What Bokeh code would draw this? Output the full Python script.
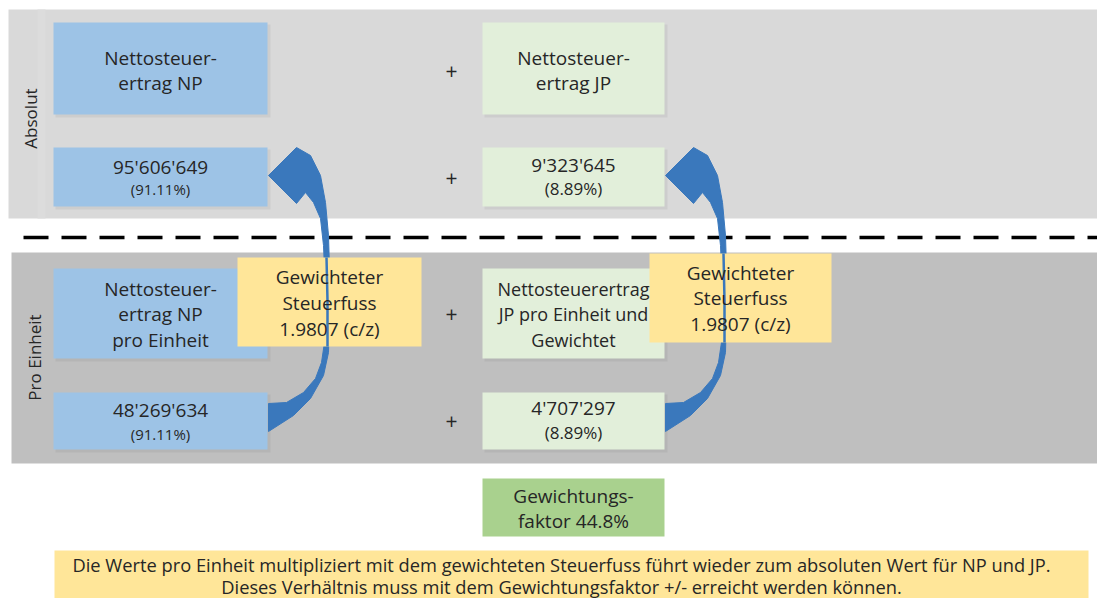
from bokeh.plotting import figure
from bokeh.models import Range1d
from bokeh.core.properties import value
from bokeh.embed import file_html
from bokeh.resources import INLINE
import math

# ---------------- content ----------------
band_labels = ["Absolut", "Pro Einheit"]
np_header = ["Nettosteuer-", "ertrag NP"]
jp_header = ["Nettosteuer-", "ertrag JP"]
np_abs_value = "95'606'649"
np_abs_share = "(91.11%)"
jp_abs_value = "9'323'645"
jp_abs_share = "(8.89%)"
np_unit_header = ["Nettosteuer-", "ertrag NP", "pro Einheit"]
jp_unit_header = ["Nettosteuerertrag", "JP pro Einheit und", "Gewichtet"]
np_unit_value = "48'269'634"
np_unit_share = "(91.11%)"
jp_unit_value = "4'707'297"
jp_unit_share = "(8.89%)"
weight_box = ["Gewichteter", "Steuerfuss", "1.9807 (c/z)"]
factor_box = ["Gewichtungs-", "faktor 44.8%"]
note_lines = [
    "Die Werte pro Einheit multipliziert mit dem gewichteten Steuerfuss führt wieder zum absoluten Wert für NP und JP.",
    "Dieses Verhältnis muss mit dem Gewichtungsfaktor +/- erreicht werden können.",
]

# ---------------- layout (pixel frame, y downwards) ----------------
W, H = 1097, 598
np_x = (53, 267)
jp_x = (482, 664)
plus_x = 451
rows_y = [(22, 114), (147, 206), (268, 358), (392, 449)]
yellow_l = (237, 421, 257, 346)
yellow_r = (649, 831, 253, 342)
factor_xy = (482, 664, 478, 536)
note_xy = (54, 1088, 550, 598)
arrow_shift = 397

C_TOP = "#d9d9d9"
C_BOT = "#bfbfbf"
C_NP = "#9dc3e6"
C_JP = "#e2efda"
C_Y = "#ffe699"
C_G = "#a9d18e"
C_ARROW = "#3a78bc"
C_TXT = "#262626"
FONT = value("Open Sans")

p = figure(width=W, height=H, output_backend="svg", toolbar_location=None,
           x_range=Range1d(0, W), y_range=Range1d(H, 0),
           min_border=0, outline_line_color=None)
p.axis.visible = False
p.grid.visible = False
p.background_fill_color = "white"
p.border_fill_color = "white"

def box(x0, x1, y0, y1, color, **kw):
    p.quad(left=x0, right=x1, top=y0, bottom=y1, fill_color=color, line_color=None, **kw)

def lines(xc, ys, texts, size="19px", color=C_TXT):
    p.text(x=[xc] * len(texts), y=ys, text=texts, text_align="center",
           text_baseline="middle", text_font=FONT, text_font_size=size,
           text_color=color)

# bands
box(8, 1120, 9, 218, C_TOP)
box(37, 45, 9, 218, "#dcdcdc")
box(11, 1120, 252, 463, C_BOT)

# dashed separator
p.line(x=[23, 1110], y=[237, 237], line_color="black", line_width=3.5, line_dash="25 13")

# boxes with subtle shadow
for (x0, x1), col in [(np_x, C_NP), (jp_x, C_JP)]:
    for (y0, y1) in rows_y:
        box(x0 + 2, x1 + 3, y0 + 2, y1 + 3, "#000000", fill_alpha=0.05)
        box(x0, x1, y0, y1, col)

# arrows (curved, pointing up-left)
arrow_x = [268, 296, 310, 320, 325, 328, 329, 329, 328, 323, 310, 293, 268,
           268, 286, 303, 315, 321, 325, 325, 324, 323, 320, 313, 305, 296]
arrow_y = [175, 147, 155, 175, 202, 235, 268, 308, 352, 375, 398, 415, 431,
           403, 402, 392, 378, 362, 335, 300, 268, 245, 218, 202, 192, 203]
for dx in (0, arrow_shift):
    p.patch(x=[v + dx for v in arrow_x], y=arrow_y, fill_color=C_ARROW,
            line_color=C_ARROW, line_width=1)

# weighted tax rate boxes
for (x0, x1, y0, y1) in (yellow_l, yellow_r):
    box(x0, x1, y0, y1, C_Y)
# thin arrow line visible through yellow boxes
for dx, (x0, x1, y0, y1) in ((0, yellow_l), (arrow_shift, yellow_r)):
    p.line(x=[326 + dx, 327 + dx, 327 + dx], y=[y0, 300, y1], line_color=C_ARROW, line_width=2.5)

# factor and note boxes
box(*factor_xy, C_G)
box(*note_xy, C_Y)

# ---------------- texts ----------------
np_c = sum(np_x) / 2
jp_c = sum(jp_x) / 2
lines(np_c, [57, 82], np_header)
lines(jp_c, [57, 82], jp_header)
lines(np_c, [166], [np_abs_value])
lines(np_c, [188], [np_abs_share], size="15px")
lines(jp_c, [164], [jp_abs_value])
lines(jp_c, [188], [jp_abs_share], size="17px")
lines(np_c, [288, 313, 339], np_unit_header)
lines(jp_c, [288, 313, 339], jp_unit_header, size="18px")
lines(np_c, [409], [np_unit_value])
lines(np_c, [433], [np_unit_share], size="15px")
lines(jp_c, [407], [jp_unit_value])
lines(jp_c, [432], [jp_unit_share], size="17px")
lines((yellow_l[0] + yellow_l[1]) / 2, [276, 302, 328], weight_box)
lines((yellow_r[0] + yellow_r[1]) / 2, [272, 297, 323], weight_box)
lines((factor_xy[0] + factor_xy[1]) / 2, [495, 520], factor_box)
lines(561, [564, 586], note_lines, size="18.3px")
lines(plus_x, [70, 177, 313, 420], ["+"] * 4, size="21px")

p.text(x=[30, 34], y=[118, 357], text=band_labels, angle=math.pi / 2,
       text_align="center", text_baseline="middle", text_font=FONT,
       text_font_size="17px", text_color=C_TXT)

open("out.html", "w").write(file_html(p, INLINE))
